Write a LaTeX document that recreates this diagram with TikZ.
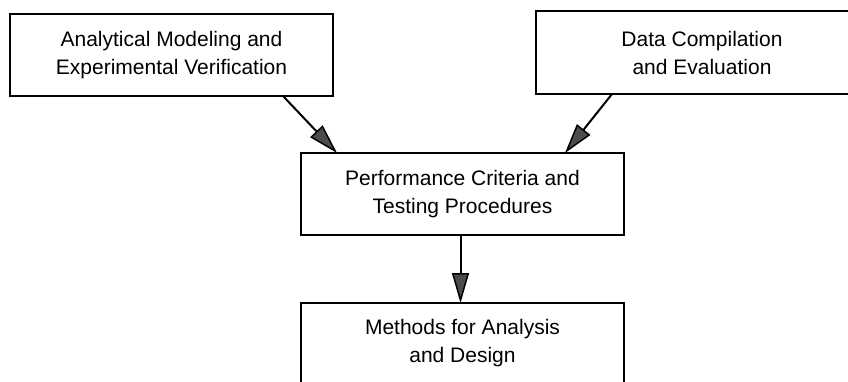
\documentclass[tikz,border=0pt]{standalone}
\usepackage{fontspec}
\setmainfont{Liberation Sans}
\usetikzlibrary{arrows.meta}
\tikzset{
  box/.style={draw=black, line width=2pt, rectangle, inner sep=0pt, outer sep=0pt,
    align=center, font=\fontsize{21}{28}\selectfont},
  flow/.style={draw=black, line width=2pt,
    -{Triangle[length=30pt,width=17pt,fill=black!70,line width=1.5pt]}}
}
\begin{document}
\begin{tikzpicture}[x=1pt,y=-1pt]
\useasboundingbox[fill=white] (0,0) rectangle (848,381);
\node[box, minimum width=323pt, minimum height=82pt] (A) at (171.5,55)
  {Analytical Modeling and\\Experimental Verification};
\node[box, minimum width=332pt, minimum height=83pt] (B) at (702,52.5)
  {Data Compilation\\and Evaluation};
\node[box, minimum width=323pt, minimum height=82pt] (C) at (462.5,194)
  {Performance Criteria and\\Testing Procedures};
\node[box, minimum width=323pt, minimum height=80pt] (D) at (462.5,343)
  {Methods for Analysis\\and Design};
\draw[flow] ([xshift=111.5pt]A.south) -- ([xshift=-125.5pt]C.north);
\draw[flow] ([xshift=-90pt]B.south) -- ([xshift=102.5pt]C.north);
\draw[flow] ([xshift=-2pt]C.south) -- ([xshift=-2pt]D.north);
\end{tikzpicture}
\end{document}
